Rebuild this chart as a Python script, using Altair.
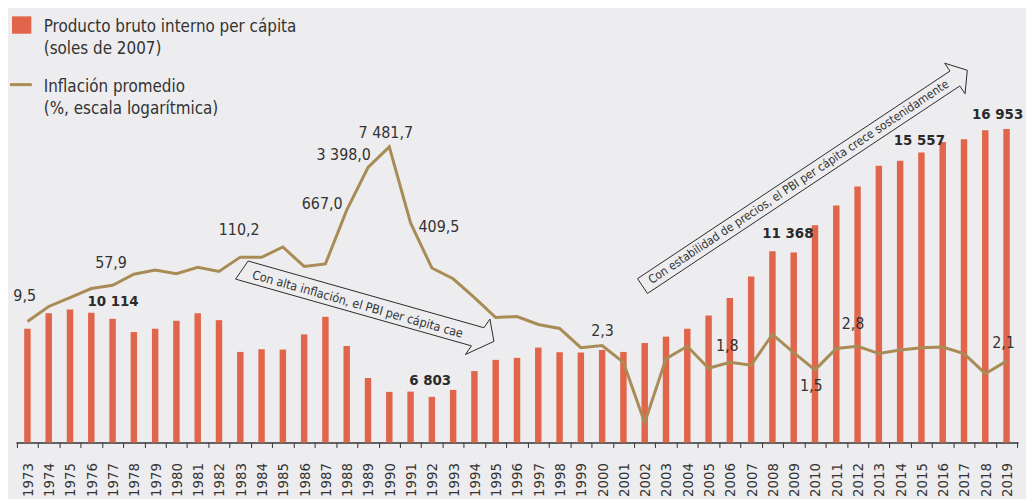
import math
import altair as alt
import pandas as pd

# ---------------- data ----------------
years = list(range(1973, 2020))
pbi = [9385, 9972, 10114, 9987, 9761, 9258, 9385, 9686, 9972, 9709,
       8506, 8607, 8595, 9171, 9836, 8731, 7517, 6991, 7002, 6803,
       7066, 7780, 8205, 8280, 8671, 8494, 8483, 8581, 8506, 8844,
       9085, 9385, 9885, 10551, 11368, 12318, 12269, 13306, 14058, 14773,
       15557, 15750, 16062, 16464, 16566, 16904, 16953]
inflacion = [9.5, 16.9, 23.6, 33.5, 38.0, 57.9, 67.7, 59.1, 75.4, 64.4,
             111.1, 110.2, 163.4, 77.9, 85.8, 667.0, 3398.0, 7481.7, 409.5, 73.5,
             48.6, 23.7, 11.1, 11.5, 8.5, 7.3, 3.5, 3.8, 2.0, 0.2,
             2.3, 3.7, 1.6, 2.0, 1.8, 5.8, 2.9, 1.5, 3.4, 3.7,
             2.8, 3.2, 3.5, 3.6, 2.8, 1.3, 2.1]

bar_label_years = [1975, 1992, 2007, 2013, 2019]
inf_label_years = [1973, 1978, 1984, 1988, 1989, 1990, 1991, 2003, 2007, 2010, 2013, 2019]

legend_pbi = ["Producto bruto interno per cápita", "(soles de 2007)"]
legend_inf = ["Inflación promedio", "(%, escala logarítmica)"]
arrow_text_1 = "Con alta inflación, el PBI per cápita cae"
arrow_text_2 = "Con estabilidad de precios, el PBI per cápita crece sostenidamente"

# ---------------- styles / layout ----------------
FONT = "DejaVu Sans Condensed, Liberation Sans Narrow, sans-serif"
BG = "#EDEDEF"
RED = "#E0654A"
GOLD = "#A98C55"
TXT = "#333333"
X0, Y0 = 16, 8          # plot origin on the page
W, H = 1010, 436

bar_label_offsets = {1975: (43.4, -9), 1992: (-1.7, -17), 2007: (37, -43.6),
                     2013: (40.8, -26), 2019: (-9, -15.5)}
inf_label_offsets = {1973: (-2.8, -26), 1978: (-23, -11), 1984: (-22.6, -27.7),
                     1988: (-24.7, -6), 1989: (-24.5, -13), 1990: (-3.5, -14),
                     1991: (28.6, 4), 2003: (-64, -27.6), 2007: (-24, -18.8),
                     2010: (-3.7, 16), 2013: (-26, -29.4), 2019: (-3, -18.2)}


def fmt_int(v):
    return f"{v:,}".replace(",", " ")


def fmt_dec(v):
    return f"{v:,.1f}".replace(",", " ").replace(".", ",")


df = pd.DataFrame({"year": years, "pbi": pbi, "inf": inflacion})
df["pbi_txt"] = [fmt_int(v) for v in pbi]
df["inf_txt"] = [fmt_dec(v) for v in inflacion]

xenc = alt.X("year:O",
             scale=alt.Scale(paddingInner=0, paddingOuter=0.04),
             axis=alt.Axis(title=None, labelAngle=-90, labelAlign="right",
                           labelBaseline="middle", labelFont=FONT, labelFontSize=15,
                           labelColor=TXT, labelPadding=15, tickBand="extent",
                           tickSize=5, tickColor=TXT, tickWidth=1,
                           domainColor=TXT, domainWidth=1.5, grid=False))

yb = alt.Y("pbi:Q", scale=alt.Scale(domain=[5073.3, 21464.3], zero=False, nice=False, clamp=True),
           axis=None)
yl = alt.Y("inf:Q", scale=alt.Scale(type="log", domain=[0.09391, 1.392e6], nice=False), axis=None)

base = alt.Chart(df)

bars = base.mark_bar(color=RED, size=6.5).encode(x=xenc, y=yb)
bar_labels = []
for yr in bar_label_years:
    dx, dy = bar_label_offsets[yr]
    bar_labels.append(
        base.transform_filter(alt.datum.year == yr).mark_text(
            font=FONT, fontSize=15, fontWeight="bold", color="#2a2a2a",
            align="center", baseline="middle", dx=dx, dy=dy
        ).encode(x=xenc, y=yb, text="pbi_txt:N"))
bar_group = alt.layer(bars, *bar_labels)

line = base.mark_line(color=GOLD, strokeWidth=3, strokeJoin="miter").encode(x=xenc, y=yl)
inf_labels = []
for yr in inf_label_years:
    dx, dy = inf_label_offsets[yr]
    inf_labels.append(
        base.transform_filter(alt.datum.year == yr).mark_text(
            font=FONT, fontSize=16, color=TXT, align="center", baseline="middle",
            dx=dx, dy=dy
        ).encode(x=xenc, y=yl, text="inf_txt:N"))
line_group = alt.layer(line, *inf_labels)


# ---------------- annotation arrows ----------------
def arrow_layer(sx, sy, theta, pts, shear, text, tpos, fsize):
    th = math.radians(theta)
    ux, uy = math.cos(th), math.sin(th)
    nx, ny = -math.sin(th), math.cos(th)
    rows = []
    for i, (a, b) in enumerate(pts + [pts[0]]):
        a2 = a + shear * b
        rows.append({"px": sx + a2 * ux + b * nx - X0,
                     "py": sy + a2 * uy + b * ny - Y0, "o": i})
    outline = alt.Chart(pd.DataFrame(rows)).mark_line(
        color="#2a2a2a", strokeWidth=1, strokeJoin="miter").encode(
        x=alt.X("px:Q", scale=None), y=alt.Y("py:Q", scale=None), order="o:Q")
    ta, tb = tpos
    tx = sx + ta * ux + tb * nx - X0
    ty = sy + ta * uy + tb * ny - Y0
    ang = theta % 360
    label = alt.Chart(pd.DataFrame({"t": [text]})).mark_text(
        font=FONT, fontSize=fsize, color=TXT, align="center", baseline="middle",
        angle=ang).encode(x=alt.value(tx), y=alt.value(ty), text="t:N")
    return [outline, label]


arrow1 = arrow_layer(243.7, 270.2, 15.8,
                     [(0, -10.5), (247, -10.5), (247, -20.5), (264, 0),
                      (247, 20.5), (247, 10.5), (0, 10.5)],
                     -0.343, arrow_text_1, (121.7, 1.5), 12.5)
arrow2 = arrow_layer(647.5, 286.3, -33.6,
                     [(0, -9), (378, -9), (378, -18.5), (393, 0),
                      (378, 18.5), (378, 9), (0, 9)],
                     0.0, arrow_text_2, (189, -0.5), 12)

# ---------------- legend ----------------
one = pd.DataFrame({"k": [0]})
leg_rect = alt.Chart(one).mark_rect(color=RED).encode(
    x=alt.value(12 - X0), x2=alt.value(31.5 - X0),
    y=alt.value(14.5 - Y0), y2=alt.value(32 - Y0))
leg_rule = alt.Chart(one).mark_rule(color=GOLD, strokeWidth=3).encode(
    x=alt.value(10 - X0), x2=alt.value(32 - X0), y=alt.value(83.3 - Y0))
leg_texts = []
for txt, base_y in zip(legend_pbi + legend_inf, [30, 52.8, 90.7, 113]):
    leg_texts.append(alt.Chart(pd.DataFrame({"t": [txt]})).mark_text(
        font=FONT, fontSize=17, color=TXT, align="left", baseline="alphabetic").encode(
        x=alt.value(44 - X0), y=alt.value(base_y - Y0), text="t:N"))

chart = alt.layer(
    bar_group, line_group, *arrow1, *arrow2, leg_rect, leg_rule, *leg_texts
).resolve_scale(y="independent").properties(
    width=W, height=H,
    padding={"left": 8, "top": 0, "right": 8, "bottom": 55},
    autosize=alt.AutoSizeParams(type="none"),
    background=BG,
).configure_view(stroke=None)

chart.save("out.html", embed_options={"renderer": "svg", "actions": False})
